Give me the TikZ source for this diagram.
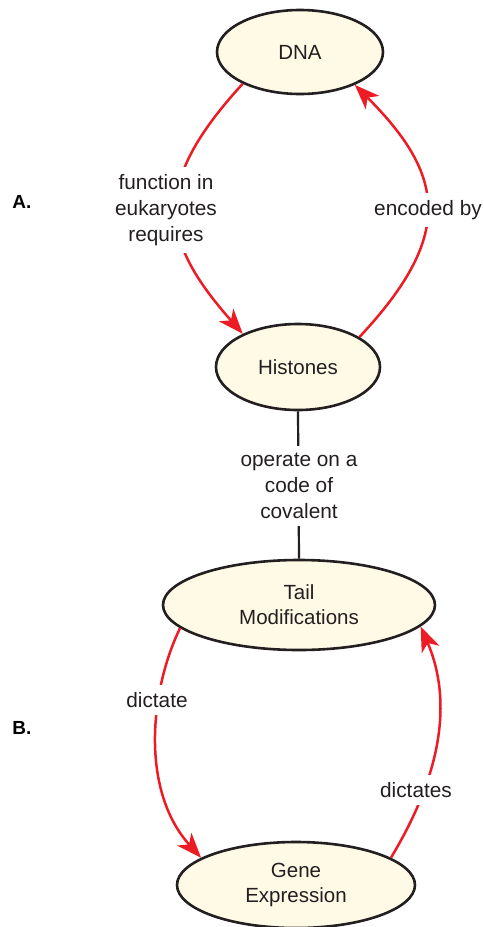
\documentclass[tikz,border=0pt]{standalone}
\usepackage{fontspec}
\setmainfont{Liberation Sans}
\usetikzlibrary{shapes.geometric,arrows.meta}
\definecolor{linkred}{RGB}{237,28,36}
\definecolor{cream}{RGB}{255,250,230}
\definecolor{ink}{RGB}{35,31,32}
\begin{document}
\begin{tikzpicture}[x=1pt,y=-1pt,
  concept/.style={ellipse,draw=ink,line width=2.6pt,fill=cream,inner sep=0pt,
    align=center,font=\fontsize{20.5}{25}\selectfont,text=ink},
  link/.style={draw=linkred,line width=2.5pt},
  tip/.style={-{Stealth[length=25pt,width=19pt,inset=7pt]}},
  linklabel/.style={fill=white,align=center,inner xsep=3pt,inner ysep=7pt,
    font=\fontsize{20.8}{26}\selectfont,text=ink},
  part/.style={font=\bfseries\fontsize{19}{22}\selectfont,text=black}]
\useasboundingbox (0,0) rectangle (484,927);

% concepts
\node[concept,minimum width=166pt,minimum height=84pt] (dna) at (300,52) {DNA};
\node[concept,minimum width=164pt,minimum height=86pt] (his) at (298,367) {Histones};
\node[concept,minimum width=272pt,minimum height=90pt] (tail) at (299,605) {Tail\\Modifications};
\node[concept,minimum width=238pt,minimum height=86pt] (gene) at (296,885) {Gene\\Expression};

% links between concepts
\draw[link,tip] (dna.209) .. controls (150,185) and (160,240) .. (his.149);
\draw[link,tip] (his.26) .. controls (455,235) and (445,175) .. (dna.329);
\draw[ink,line width=2.2pt] (his.south) -- (tail.north);
\draw[link,tip] (tail.191) .. controls (150,690) and (140,790) .. (gene.164);
\draw[link,tip] (gene.16) .. controls (450,760) and (448,690) .. (tail.350);

% link phrases
\node[linklabel] (l1) at (166,210) {function in\\eukaryotes\\requires};
\node[linklabel] (l2) at (428,210) {encoded by};
\node[linklabel] (l3) at (299,486) {operate on a\\code of\\covalent};
\node[linklabel] (l4) at (157,700) {dictate};
\node[linklabel] (l5) at (416,790) {dictates};

% section markers
\node[part] (pa) at (22,202) {A.};
\node[part] (pb) at (22,728) {B.};
\end{tikzpicture}
\end{document}
